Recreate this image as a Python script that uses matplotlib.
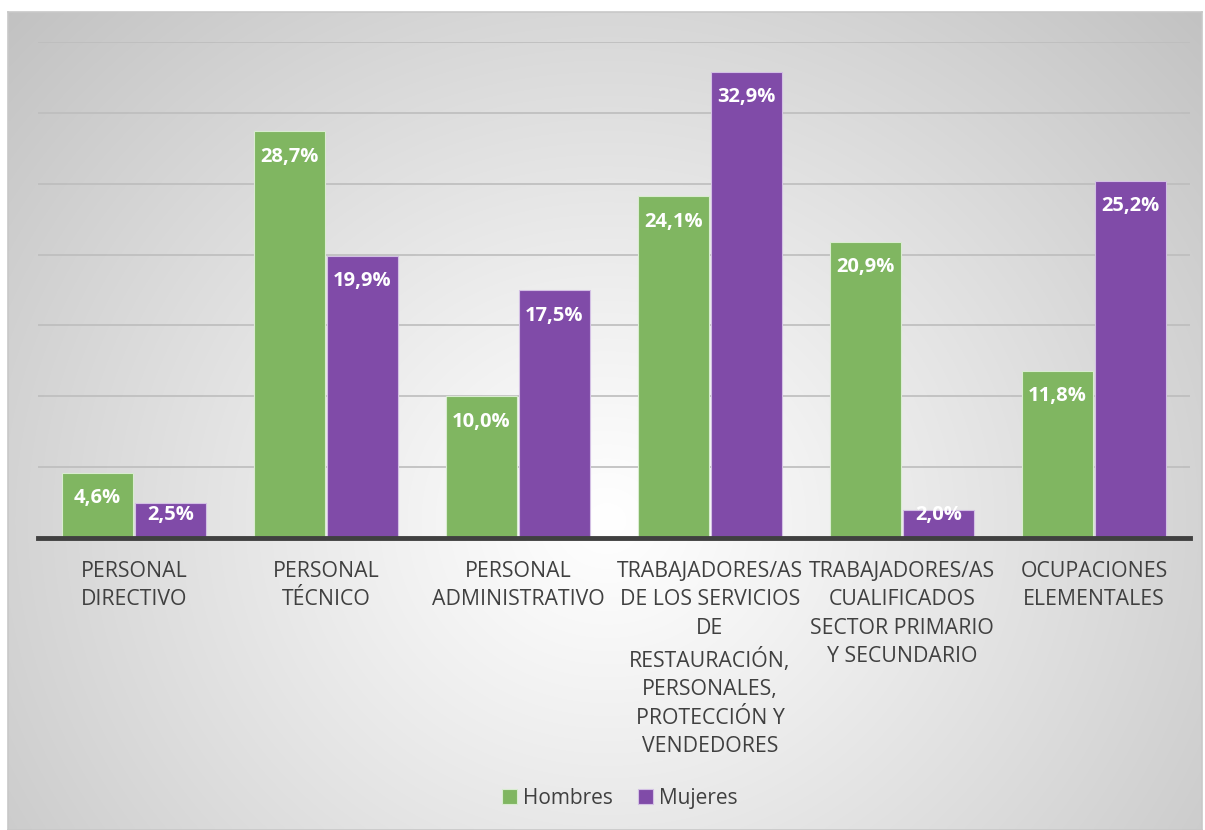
import numpy as np
import matplotlib
matplotlib.use("Agg")
import matplotlib.pyplot as plt

categories = [
    "PERSONAL\nDIRECTIVO",
    "PERSONAL\nTÉCNICO",
    "PERSONAL\nADMINISTRATIVO",
    "TRABAJADORES/AS\nDE LOS SERVICIOS\nDE\nRESTAURACIÓN,\nPERSONALES,\nPROTECCIÓN Y\nVENDEDORES",
    "TRABAJADORES/AS\nCUALIFICADOS\nSECTOR PRIMARIO\nY SECUNDARIO",
    "OCUPACIONES\nELEMENTALES",
]
hombres = [4.6, 28.7, 10.0, 24.1, 20.9, 11.8]
mujeres = [2.5, 19.9, 17.5, 32.9, 2.0, 25.2]
series_names = ["Hombres", "Mujeres"]
colors = ["#80B661", "#804BA8"]

plt.rcParams['font.family'] = ['Open Sans', 'DejaVu Sans']

W, H = 1205, 830
fig = plt.figure(figsize=(W / 100, H / 100), dpi=100)
fig.patch.set_facecolor("white")

# chart area background with radial gradient
bx0, by0, bx1, by1 = 8, 12, 1202, 830
bg = fig.add_axes([bx0 / W, 1 - by1 / H, (bx1 - bx0) / W, (by1 - by0) / H])
ny, nx = 200, 300
yy, xx = np.mgrid[0:ny, 0:nx]
cx, cy = 0.50 * nx, 0.62 * ny
r = np.sqrt(((xx - cx) / nx) ** 2 + ((yy - cy) / ny * 0.75) ** 2)
r = r / r.max()
val = 1.0 - 0.24 * np.clip(r, 0, 1) ** 1.1
img = np.dstack([val, val, val])
bg.imshow(img, aspect="auto", extent=[0, 1, 0, 1], origin="upper", interpolation="bilinear")
bg.set_xticks([]); bg.set_yticks([])
for s in bg.spines.values():
    s.set_edgecolor("#c8c8c8"); s.set_linewidth(1.2)
bg.set_zorder(0)

# plot area
px0, px1, py_top, py_base = 38, 1190, 42, 538
ax = fig.add_axes([px0 / W, 1 - py_base / H, (px1 - px0) / W, (py_base - py_top) / H])
ax.set_zorder(1)
ax.patch.set_alpha(0)

x = np.arange(len(categories))
bw = 0.37
b1 = ax.bar(x - bw / 2 - 0.005, hombres, bw, color=colors[0], edgecolor="#d9ecd0", linewidth=0.8, label=series_names[0], zorder=3)
b2 = ax.bar(x + bw / 2 + 0.005, mujeres, bw, color=colors[1], edgecolor="#d3c0e4", linewidth=0.8, label=series_names[1], zorder=3)

ax.set_xlim(-0.5, len(categories) - 0.5)
ax.set_ylim(0, 35)
ax.set_yticks(np.arange(0, 36, 5))
ax.yaxis.grid(True, color="#bdbdbd", linewidth=1.2, zorder=0)
ax.set_axisbelow(True)
ax.tick_params(axis="y", left=False, labelleft=False)
ax.tick_params(axis="x", bottom=False, pad=13)
for s in ["top", "right", "left"]:
    ax.spines[s].set_visible(False)
ax.spines["bottom"].set_color("#404040")
ax.spines["bottom"].set_linewidth(3.5)
ax.spines["bottom"].set_zorder(4)

ax.set_xticks(x)
ax.set_xticklabels(categories, fontsize=15.3, color="#404040", linespacing=1.47, va="top")

# inside-end labels, kept above the baseline for short bars
for bars, vals in ((b1, hombres), (b2, mujeres)):
    for rect, v in zip(bars, vals):
        ylab = max(v - 1.8, 1.62)
        ax.text(rect.get_x() + rect.get_width() / 2, ylab, f"{v:.1f}%".replace(".", ","),
                ha="center", va="center", color="white",
                fontsize=14.5, fontweight="bold", zorder=5)

leg = fig.legend(handles=[b1, b2], labels=series_names, loc="center",
                 bbox_to_anchor=(620 / W, 1 - 798 / H), ncol=2, frameon=False,
                 fontsize=15, handlelength=0.7, handleheight=0.7,
                 handletextpad=0.3, columnspacing=1.2)
for t in leg.get_texts():
    t.set_color("#404040")

fig.savefig("out.png", dpi=100, facecolor="white")
